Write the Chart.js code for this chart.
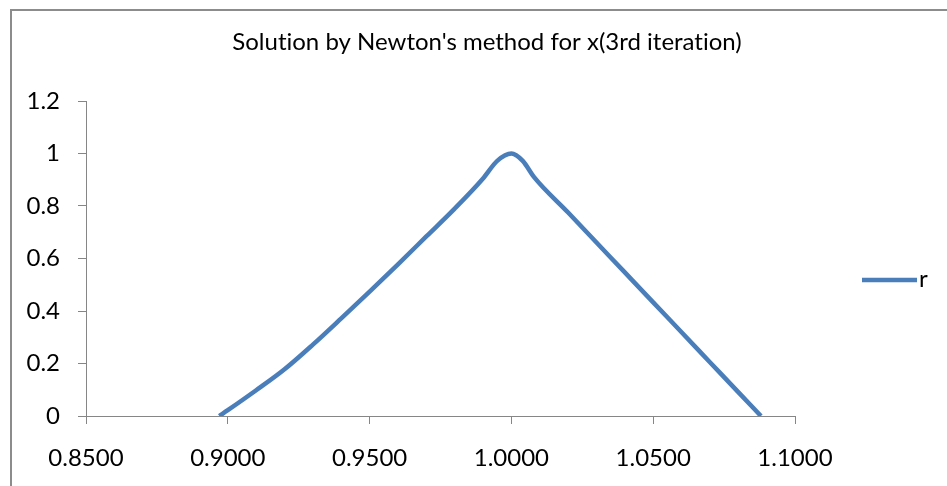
<!DOCTYPE html>
<html>
<head>
<meta charset="utf-8">
<script src="https://cdn.jsdelivr.net/npm/chart.js@4.4.1/dist/chart.umd.min.js"></script>
<style>
  body { margin: 0; background: #fff; }
  #wrap { position: relative; width: 947px; height: 486px; }
</style>
</head>
<body>
<div id="wrap"><canvas id="chart" width="947" height="486"></canvas></div>
<script>
// values
const xValues = [0.897, 0.900, 0.910, 0.920, 0.930, 0.940, 0.950, 0.960, 0.970, 0.980, 0.990, 0.995, 1.000, 1.004, 1.008, 1.020, 1.030, 1.040, 1.050, 1.060, 1.070, 1.080, 1.088];
const rValues = [0.000, 0.022, 0.098, 0.178, 0.272, 0.372, 0.474, 0.578, 0.684, 0.790, 0.905, 0.972, 1.000, 0.972, 0.910, 0.775, 0.661, 0.547, 0.433, 0.319, 0.205, 0.091, 0.000];
const seriesName = "r";
const chartTitle = "Solution by Newton's method for x(3rd iteration)";
const xTicks = [0.85, 0.90, 0.95, 1.00, 1.05, 1.10];
const yTicks = [0, 0.2, 0.4, 0.6, 0.8, 1, 1.2];

const axisColor = "#868686";
const lineColor = "#4a7ebb";
const fontFamily = "Lato, 'Open Sans', sans-serif";
const fontSize = 24;

const points = xValues.map((x, i) => ({ x: x, y: rValues[i] }));

// Lato joins "ti" into a ligature, the original font does not
const noLig = (s) => s.replace(/ti/g, "t\u200Ci").replace(/fi/g, "f\u200Ci");

// outer frame + title (title sits centred over the whole chart, not the plot)
const framePlugin = {
  id: "frame",
  beforeDraw(chart) {
    const ctx = chart.ctx;
    ctx.save();
    ctx.fillStyle = "#fff";
    ctx.fillRect(0, 0, chart.width, chart.height);
    ctx.strokeStyle = "#8c8c8c";
    ctx.lineWidth = 2;
    ctx.beginPath();
    ctx.moveTo(11, chart.height + 5);
    ctx.lineTo(11, 10);
    ctx.lineTo(chart.width + 5, 10);
    ctx.stroke();

    ctx.fillStyle = "#000";
    ctx.font = fontSize + "px " + fontFamily;
    ctx.textAlign = "center";
    ctx.textBaseline = "alphabetic";
    ctx.fillText(noLig(chartTitle), 487, 50);
    ctx.restore();
  }
};

// legend on the right, like the spreadsheet one
const legendPlugin = {
  id: "sideLegend",
  afterDraw(chart) {
    const ctx = chart.ctx;
    const ds = chart.data.datasets[0];
    const y = 280;
    ctx.save();
    ctx.strokeStyle = ds.borderColor;
    ctx.lineWidth = ds.borderWidth;
    ctx.beginPath();
    ctx.moveTo(862, y);
    ctx.lineTo(917, y);
    ctx.stroke();
    ctx.fillStyle = "#000";
    ctx.font = fontSize + "px " + fontFamily;
    ctx.textBaseline = "alphabetic";
    ctx.fillText(ds.label, 919, y + 7);
    ctx.restore();
  }
};

new Chart(document.getElementById("chart"), {
  type: "line",
  data: {
    datasets: [
      {
        label: seriesName,
        data: points,
        borderColor: lineColor,
        borderWidth: 4.5,
        pointRadius: 0,
        fill: false,
        cubicInterpolationMode: "monotone",
        borderCapStyle: "butt",
      },
    ],
  },
  options: {
    responsive: false,
    animation: false,
    devicePixelRatio: 1,
    layout: { padding: { left: 0, right: 152, top: 101, bottom: 0 } },
    plugins: {
      legend: { display: false },
      tooltip: { enabled: false },
      title: { display: false },
    },
    scales: {
      x: {
        type: "linear",
        min: xTicks[0],
        max: xTicks[xTicks.length - 1],
        afterBuildTicks(scale) {
          scale.ticks = xTicks.map((v) => ({ value: v }));
        },
        afterFit(scale) {
          scale.height = 70;
        },
        ticks: {
          color: "#000",
          font: { family: fontFamily, size: fontSize },
          padding: 20,
          maxRotation: 0,
          callback: (v) => Number(v).toFixed(4),
        },
        grid: { drawOnChartArea: false, drawTicks: true, tickLength: 8, color: axisColor },
        border: { color: axisColor, width: 1 },
      },
      y: {
        type: "linear",
        min: yTicks[0],
        max: yTicks[yTicks.length - 1],
        afterBuildTicks(scale) {
          scale.ticks = yTicks.map((v) => ({ value: v }));
        },
        afterFit(scale) {
          scale.width = 86;
        },
        ticks: {
          color: "#000",
          font: { family: fontFamily, size: fontSize },
          padding: 18,
          callback: (v) => String(Math.round(v * 10) / 10),
        },
        grid: { drawOnChartArea: false, drawTicks: true, tickLength: 8, color: axisColor },
        border: { color: axisColor, width: 1 },
      },
    },
  },
  plugins: [framePlugin, legendPlugin],
});
</script>
</body>
</html>
